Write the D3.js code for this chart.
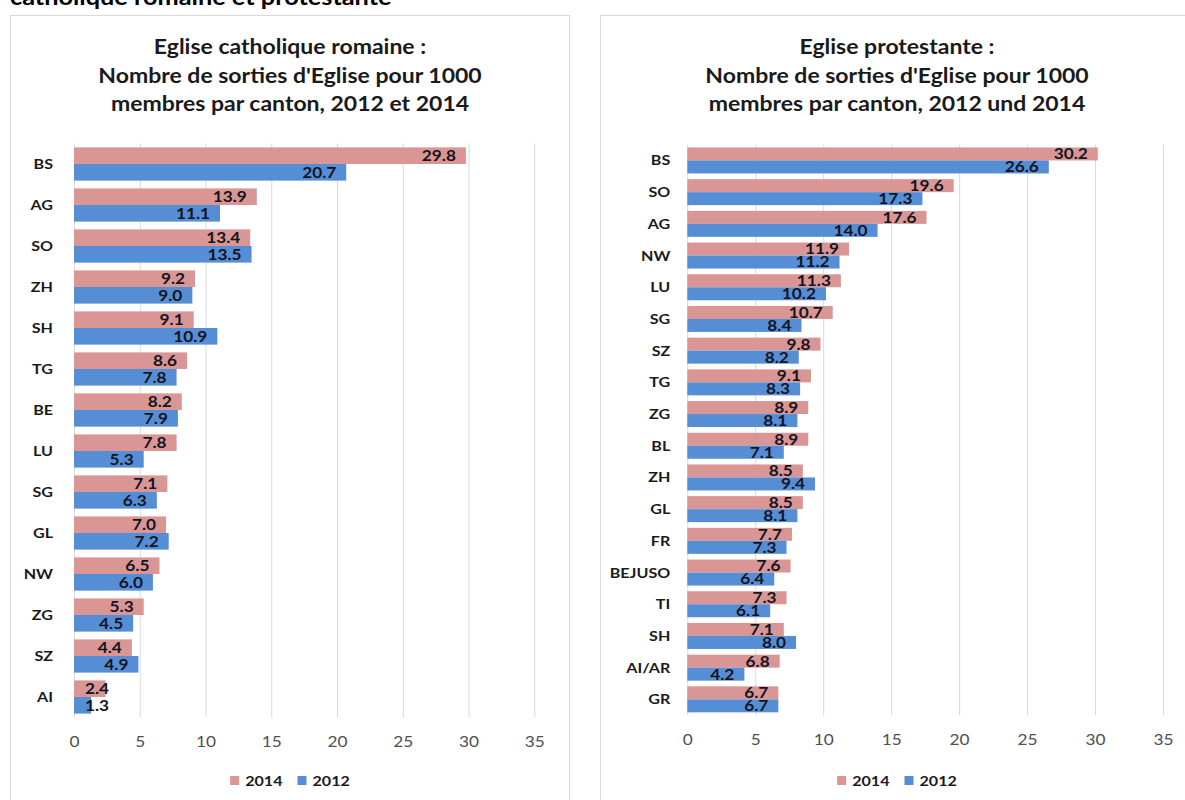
<!DOCTYPE html>
<html>
<head>
<meta charset="utf-8">
<script src="https://cdn.jsdelivr.net/npm/d3@7"></script>
<style>
  html, body { margin: 0; padding: 0; background: #fff; overflow: hidden; }
  svg { display: block; font-family: Lato, "Open Sans", sans-serif; }
</style>
</head>
<body>
<svg id="chart" width="1185" height="800"></svg>
<script>
// ---------- DATA ----------
const pageHeading = "catholique romaine et protestante";
const seriesNames = ["2014", "2012"];
const seriesColors = ["#d99694", "#558ed5"];
const tickValues = [0, 5, 10, 15, 20, 25, 30, 35];

const leftTitle = ["Eglise catholique romaine :", "Nombre de sorties d'Eglise pour 1000", "membres par canton, 2012 et 2014"];
const leftCats = ["BS", "AG", "SO", "ZH", "SH", "TG", "BE", "LU", "SG", "GL", "NW", "ZG", "SZ", "AI"];
const left2014 = [29.8, 13.9, 13.4, 9.2, 9.1, 8.6, 8.2, 7.8, 7.1, 7.0, 6.5, 5.3, 4.4, 2.4];
const left2012 = [20.7, 11.1, 13.5, 9.0, 10.9, 7.8, 7.9, 5.3, 6.3, 7.2, 6.0, 4.5, 4.9, 1.3];

const rightTitle = ["Eglise protestante :", "Nombre de sorties d'Eglise pour 1000", "membres par canton, 2012 und 2014"];
const rightCats = ["BS", "SO", "AG", "NW", "LU", "SG", "SZ", "TG", "ZG", "BL", "ZH", "GL", "FR", "BEJUSO", "TI", "SH", "AI/AR", "GR"];
const right2014 = [30.2, 19.6, 17.6, 11.9, 11.3, 10.7, 9.8, 9.1, 8.9, 8.9, 8.5, 8.5, 7.7, 7.6, 7.3, 7.1, 6.8, 6.7];
const right2012 = [26.6, 17.3, 14.0, 11.2, 10.2, 8.4, 8.2, 8.3, 8.1, 7.1, 9.4, 8.1, 7.3, 6.4, 6.1, 8.0, 4.2, 6.7];

// ---------- LAYOUT ----------
const SX = 1.15; // horizontal stretch of the original screenshot text
const svg = d3.select("#chart");

function place(sel, x, y) {
  return sel.attr("x", 0).attr("y", 0).attr("transform", `translate(${x},${y}) scale(${SX},1)`);
}

// page heading (cut off at top)
place(svg.append("text").text(pageHeading), 10, 5)
  .attr("font-size", 22).attr("font-weight", 700).attr("fill", "#000");

function drawPanel(cfg) {
  const g = svg.append("g");
  // panel border
  g.append("rect")
    .attr("x", cfg.panelX + 0.5).attr("y", 15.5)
    .attr("width", cfg.panelW).attr("height", 820)
    .attr("fill", "#fff").attr("stroke", "#d9d9d9").attr("stroke-width", 1);

  // title
  cfg.title.forEach((line, i) => {
    place(g.append("text").text(line), cfg.titleCx, 54 + i * 28.5)
      .attr("text-anchor", "middle").attr("font-size", 20).attr("font-weight", 700).attr("fill", "#1a1a1a");
  });

  const x = d3.scaleLinear().domain([0, 35]).range(cfg.xRange);
  const y = d3.scaleBand().domain(cfg.cats).range(cfg.yRange)
    .paddingInner(cfg.padIn).paddingOuter(cfg.padIn / 2);
  const ySub = d3.scaleBand().domain(seriesNames).range([0, y.bandwidth()]);

  // gridlines
  const grid = g.append("g").attr("transform", `translate(0,${cfg.yRange[1]})`)
    .call(d3.axisBottom(x).tickValues(tickValues).tickSize(-(cfg.yRange[1] - cfg.yRange[0])).tickFormat(""));
  grid.select(".domain").remove();
  grid.selectAll("line").attr("stroke", "#d9d9d9").attr("stroke-width", 1);

  // tick labels
  const ax = g.append("g").attr("transform", `translate(0,${cfg.yRange[1]})`)
    .call(d3.axisBottom(x).tickValues(tickValues).tickSize(0).tickPadding(19));
  ax.select(".domain").remove();
  ax.selectAll("text").attr("font-size", 15).attr("font-family", "Lato, sans-serif")
    .attr("fill", "#505050").attr("transform", `scale(${SX},1)`);

  // category labels
  cfg.cats.forEach(c => {
    place(g.append("text").text(c), cfg.xRange[0] - cfg.catGap, y(c) + y.bandwidth() / 2 + 5)
      .attr("text-anchor", "end").attr("font-size", 14).attr("font-weight", 700).attr("fill", "#1a1a1a");
  });

  // bars + labels
  const series = [cfg.v2014, cfg.v2012];
  series.forEach((vals, si) => {
    const name = seriesNames[si];
    cfg.cats.forEach((c, i) => {
      const v = vals[i];
      const top = y(c) + ySub(name);
      const h = ySub.bandwidth();
      g.append("rect")
        .attr("x", x(0)).attr("y", top)
        .attr("width", x(v) - x(0)).attr("height", h)
        .attr("fill", seriesColors[si]);
      const t = g.append("text").text(v.toFixed(1))
        .attr("font-size", 15).attr("font-weight", 700).attr("fill", "#14141f")
        .attr("text-anchor", "end");
      const w = t.node().getComputedTextLength() * SX;
      const endX = Math.max(x(v) - 10, x(0) + 11 + w);
      place(t, endX, top + h / 2 + 5.4);
    });
  });

  // legend
  const lg = g.append("g");
  let cursor = 0;
  seriesNames.forEach((n, i) => {
    lg.append("rect").attr("x", cursor).attr("y", -5).attr("width", 9).attr("height", 9).attr("fill", seriesColors[i]);
    const t = lg.append("text").text(n).attr("font-size", 14).attr("font-weight", 700).attr("fill", "#1a1a1a");
    const w = t.node().getComputedTextLength() * SX;
    place(t, cursor + 15, 5);
    cursor += 15 + w + 15;
  });
  const total = cursor - 15;
  lg.attr("transform", `translate(${cfg.titleCx - total / 2},${781})`);
}

drawPanel({
  panelX: 10, panelW: 559, titleCx: 290,
  xRange: [74, 534.3], yRange: [143.5, 717.5], padIn: 0.19, catGap: 21,
  title: leftTitle, cats: leftCats, v2014: left2014, v2012: left2012
});

drawPanel({
  panelX: 600, panelW: 620, titleCx: 897,
  xRange: [687.3, 1163], yRange: [144.6, 715.2], padIn: 0.18, catGap: 17,
  title: rightTitle, cats: rightCats, v2014: right2014, v2012: right2012
});
</script>
</body>
</html>
